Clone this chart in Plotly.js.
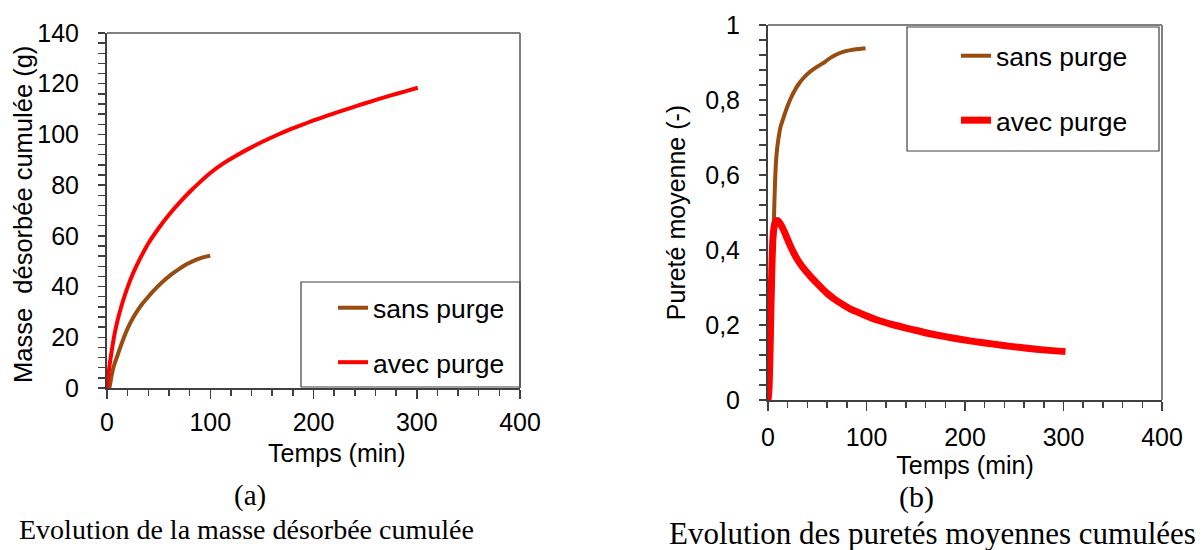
<!DOCTYPE html>
<html><head><meta charset="utf-8">
<script src="https://cdn.plot.ly/plotly-3.0.1.min.js"></script>
<style>html,body{margin:0;padding:0;background:#fff}</style>
</head><body><div id="chart" style="width:1204px;height:550px"></div>
<script>
// (a) Masse désorbée cumulée (g) vs Temps (min)
const massSansT = [0, 2, 3, 4.5, 6.5, 9, 12, 16, 20, 25, 30, 35, 40, 45, 50, 55, 60, 65, 70, 75, 80, 85, 90, 95, 100];
const massSansY = [0, 0, 1.5, 5, 8.5, 11.5, 15, 19.5, 23.5, 27.5, 30.8, 33.6, 36, 38.3, 40.4, 42.3, 44, 45.6, 47, 48.3, 49.4, 50.3, 51.1, 51.7, 52.2];
const massAvecT = [0, 1, 2, 3, 4.5, 6.5, 9, 12, 16, 20, 25, 32, 40, 50, 60, 70, 80, 90, 100, 112, 125, 137, 150, 162, 175, 187, 200, 212, 225, 237, 250, 262, 275, 288, 301];
const massAvecY = [0, 4, 7.5, 10.5, 14.5, 19.5, 24.5, 29.5, 35, 39.8, 45, 51, 57, 63, 68.3, 73, 77.3, 81.2, 84.8, 88.4, 91.6, 94.3, 97, 99.3, 101.6, 103.5, 105.5, 107.2, 109, 110.6, 112.3, 113.8, 115.4, 116.9, 118.4];

// (b) Pureté moyenne (-) vs Temps (min)
const purSansT = [0, 1, 2, 3, 4, 5, 6, 7, 8, 9, 10.5, 12.8, 16, 19.6, 23, 26.4, 31, 36.5, 43, 50, 55, 57, 60, 65, 70, 77, 84, 92, 99];
const purSansY = [0, 0, 0.07, 0.15, 0.26, 0.37, 0.48, 0.57, 0.63, 0.664, 0.695, 0.729, 0.755, 0.782, 0.804, 0.822, 0.842, 0.86, 0.876, 0.889, 0.897, 0.9, 0.906, 0.915, 0.922, 0.929, 0.933, 0.936, 0.938];
const purAvecT = [0, 1, 2, 3, 4, 5, 6, 7, 8.5, 10, 12, 15, 18, 22, 26.4, 30, 35, 43.3, 52, 60.2, 68, 77, 85, 94, 110, 128, 145, 162, 180, 195, 212, 229, 246, 263, 282, 302];
const purAvecY = [0, 0.03, 0.12, 0.25, 0.36, 0.43, 0.458, 0.472, 0.478, 0.478, 0.472, 0.458, 0.44, 0.415, 0.391, 0.374, 0.355, 0.329, 0.305, 0.284, 0.268, 0.253, 0.241, 0.231, 0.214, 0.2, 0.189, 0.178, 0.169, 0.162, 0.155, 0.149, 0.143, 0.138, 0.133, 0.129];

const seriesNames = ['sans purge', 'avec purge'];
const titles = {
  xA: 'Temps (min)', yA: 'Masse\u00a0\u00a0désorbée cumulée (g)',
  xB: 'Temps (min)', yB: 'Pureté moyenne (-)',
  labelA: '(a)', captionA: 'Evolution de la masse désorbée cumulée',
  labelB: '(b)', captionB: 'Evolution des puretés moyennes cumulées'
};

const BROWN = '#994C0F', RED = '#FF0000';
const W = 1204, H = 550;
const px = x => x / W, py = y => 1 - y / H;
const SANS = 'Liberation Sans, Arial, sans-serif';
const SERIF = 'Liberation Serif, Times New Roman, serif';

const traces = [
  {x: massSansT, y: massSansY, xaxis: 'x', yaxis: 'y', mode: 'lines', name: seriesNames[0],
   line: {color: BROWN, width: 4, shape: 'spline', smoothing: 0.6}, legend: 'legend', legendgroup: 'a1', hoverinfo: 'skip'},
  {x: massAvecT, y: massAvecY, xaxis: 'x', yaxis: 'y', mode: 'lines', name: seriesNames[1],
   line: {color: RED, width: 4, shape: 'spline', smoothing: 0.6}, legend: 'legend', legendgroup: 'a2', hoverinfo: 'skip'},
  {x: purSansT, y: purSansY, xaxis: 'x2', yaxis: 'y2', mode: 'lines', name: seriesNames[0],
   line: {color: BROWN, width: 4, shape: 'spline', smoothing: 0.6}, legend: 'legend2', legendgroup: 'b1', hoverinfo: 'skip'},
  {x: purAvecT, y: purAvecY, xaxis: 'x2', yaxis: 'y2', mode: 'lines', name: seriesNames[1],
   line: {color: RED, width: 7, shape: 'spline', smoothing: 0.6}, legend: 'legend2', legendgroup: 'b2', hoverinfo: 'skip'}
];

const AX = '#404040';
function xAxis(domain, anchor, extra) {
  return Object.assign({
    domain: domain, anchor: anchor, range: [0, 400], tick0: 0, dtick: 100,
    ticks: 'outside', ticklen: 9, tickwidth: 1.5, tickcolor: AX,
    minor: {dtick: 20, ticks: 'outside', ticklen: 6, tickwidth: 1.5, tickcolor: AX},
    showline: true, linecolor: AX, linewidth: 2, showgrid: false, zeroline: false,
    ticklabelstandoff: 2, tickfont: {family: SANS, size: 25, color: '#000'},
    automargin: false, fixedrange: true
  }, extra || {});
}
function yAxis(domain, anchor, range, dtick, mdtick, extra) {
  return Object.assign({
    domain: domain, anchor: anchor, range: range, tick0: 0, dtick: dtick,
    ticks: 'outside', ticklen: 7, tickwidth: 1.5, tickcolor: AX,
    minor: {dtick: mdtick, ticks: 'outside', ticklen: 7, tickwidth: 1.5, tickcolor: AX},
    showline: true, linecolor: AX, linewidth: 2, showgrid: false, zeroline: false,
    ticklabelstandoff: 14, tickfont: {family: SANS, size: 25, color: '#000'},
    automargin: false, fixedrange: true
  }, extra || {});
}

const frame = (xr, yr) => [
  {type: 'line', xref: xr + ' domain', yref: yr + ' domain', x0: 0, x1: 1, y0: 1, y1: 1, line: {color: '#808080', width: 2}},
  {type: 'line', xref: xr + ' domain', yref: yr + ' domain', x0: 1, x1: 1, y0: 0, y1: 1, line: {color: '#808080', width: 2}}
];

const layout = {
  width: W, height: H, margin: {l: 0, r: 0, t: 0, b: 0},
  paper_bgcolor: '#fff', plot_bgcolor: '#fff', separators: ', ',
  font: {family: SANS, size: 25, color: '#000'},
  showlegend: true,
  xaxis: xAxis([px(107), px(520)], 'y'),
  yaxis: yAxis([py(388), py(33)], 'x', [0, 140], 20, 4),
  xaxis2: xAxis([px(768), px(1162)], 'y2',
    {ticklabelstandoff: 5, title: {text: titles.xB, font: {family: SANS, size: 25}, standoff: 4}}),
  yaxis2: yAxis([py(400), py(25)], 'x2', [0, 1], 0.2, 0.04,
    {title: {text: titles.yB, font: {family: SANS, size: 25}, standoff: 12}}),
  legend: {x: px(333), y: py(284), xanchor: 'left', yanchor: 'top', bgcolor: 'rgba(0,0,0,0)',
    borderwidth: 0, font: {family: SANS, size: 26.5}, traceorder: 'grouped', tracegroupgap: 17, itemwidth: 30},
  legend2: {x: px(956), y: py(32), xanchor: 'left', yanchor: 'top', bgcolor: 'rgba(0,0,0,0)',
    borderwidth: 0, font: {family: SANS, size: 26.5}, traceorder: 'grouped', tracegroupgap: 27, itemwidth: 30},
  shapes: [].concat(frame('x', 'y'), frame('x2', 'y2'), [
    {type: 'rect', xref: 'paper', yref: 'paper', x0: px(301), x1: px(520), y0: py(387), y1: py(282),
     line: {color: AX, width: 1.2}, fillcolor: 'rgba(0,0,0,0)'},
    {type: 'rect', xref: 'paper', yref: 'paper', x0: px(907), x1: px(1159), y0: py(151), y1: py(27),
     line: {color: AX, width: 1.2}, fillcolor: 'rgba(0,0,0,0)'}
  ]),
  annotations: [
    {text: titles.yA, xref: 'paper', yref: 'paper', x: px(23), y: py(215), xanchor: 'center', yanchor: 'middle',
     textangle: -90, showarrow: false, font: {family: SANS, size: 25.5}},
    {text: titles.xA, xref: 'paper', yref: 'paper', x: px(337), y: py(453), xanchor: 'center', yanchor: 'middle',
     showarrow: false, font: {family: SANS, size: 25}},
    {text: titles.labelA, xref: 'paper', yref: 'paper', x: px(250), y: py(495), xanchor: 'center', yanchor: 'middle',
     showarrow: false, font: {family: SERIF, size: 29}},
    {text: titles.captionA, xref: 'paper', yref: 'paper', x: px(246), y: py(529), xanchor: 'center', yanchor: 'middle',
     showarrow: false, font: {family: SERIF, size: 28}},
    {text: titles.labelB, xref: 'paper', yref: 'paper', x: px(916), y: py(497), xanchor: 'center', yanchor: 'middle',
     showarrow: false, font: {family: SERIF, size: 30}},
    {text: titles.captionB, xref: 'paper', yref: 'paper', x: px(932), y: py(533), xanchor: 'center', yanchor: 'middle',
     showarrow: false, font: {family: SERIF, size: 31}}
  ]
};

Plotly.newPlot('chart', traces, layout, {staticPlot: true, displayModeBar: false});
</script>
</body></html>
